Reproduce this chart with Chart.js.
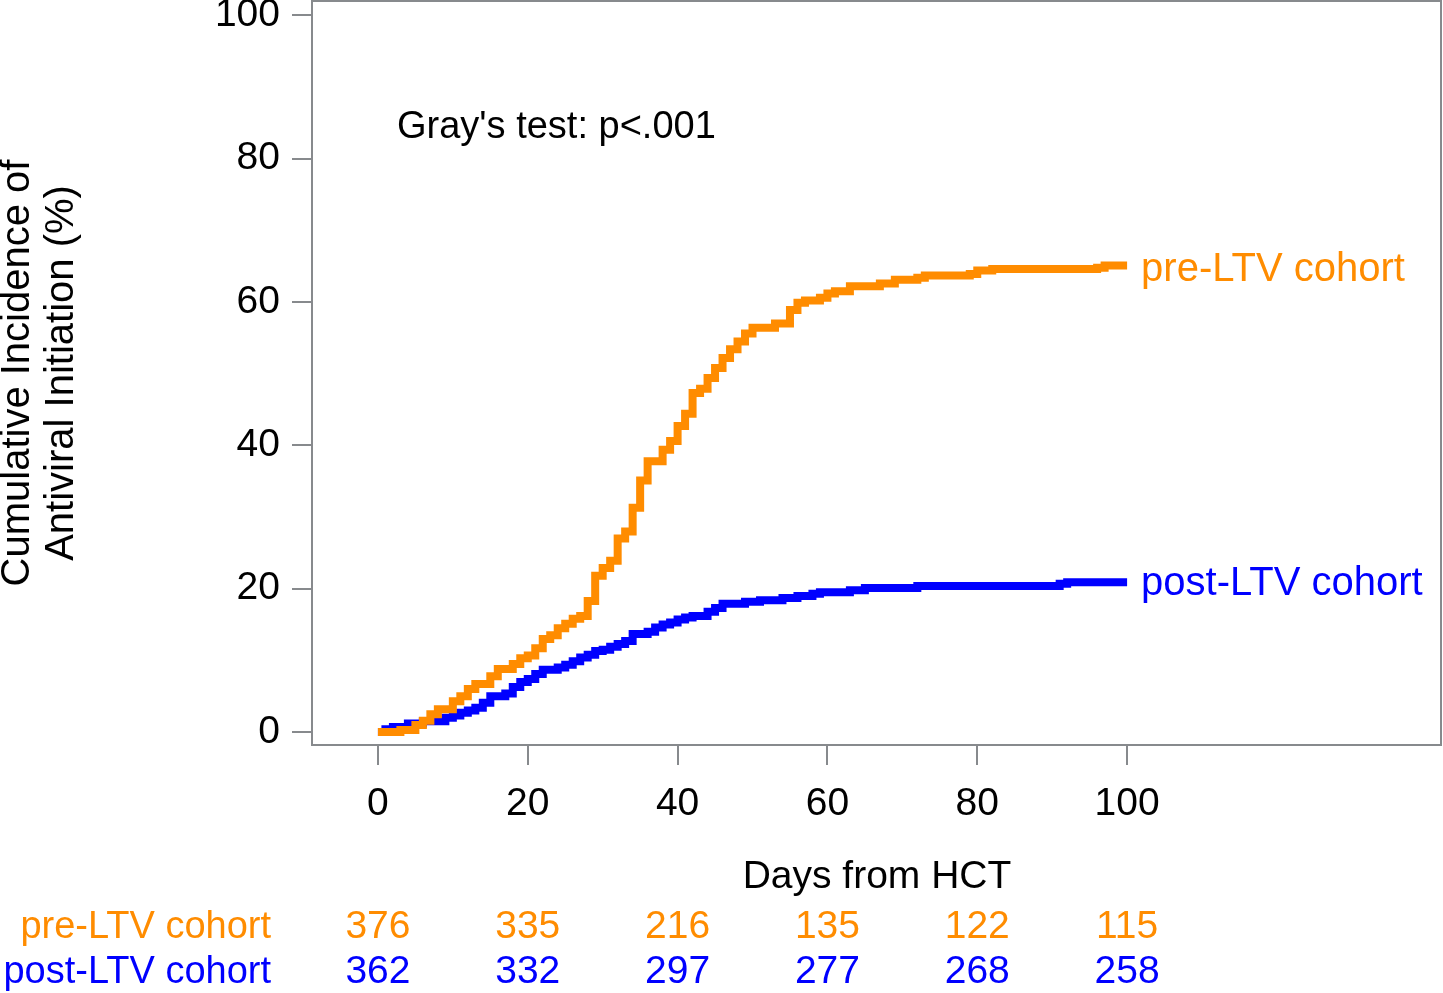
<!DOCTYPE html>
<html>
<head>
<meta charset="utf-8">
<script src="https://cdn.jsdelivr.net/npm/chart.js@4.4.1/dist/chart.umd.min.js"></script>
<style>
  html, body { margin: 0; padding: 0; background: #fff; }
  #wrap { width: 1443px; height: 993px; }
</style>
</head>
<body>
<div id="wrap"><canvas id="cif" width="1443" height="993"></canvas></div>
<script>
// step points: [day, cumulative incidence %]
const preDays = [0, 3, 5, 6, 7, 8, 10, 11, 12, 13, 15, 16, 18, 19, 20, 21, 22, 23, 24, 25, 26, 27, 28, 29, 30, 31, 32, 33, 34, 35, 36, 38, 39, 40, 41, 42, 43, 44, 45, 46, 47, 48, 49, 50, 53, 55, 56, 57, 59, 60, 61, 63, 67, 69, 72, 73, 79, 80, 82, 96, 97, 100];
const preValues = [0, 0.3, 1.0, 1.6, 2.5, 3.2, 4.3, 5.0, 6.0, 6.7, 7.8, 8.8, 9.5, 10.3, 10.7, 11.7, 13.0, 13.5, 14.5, 15.1, 15.8, 16.2, 18.3, 21.8, 22.9, 23.9, 27.0, 28.0, 31.3, 35.1, 37.8, 39.4, 40.6, 42.7, 44.4, 47.3, 47.9, 49.4, 50.8, 52.2, 53.4, 54.5, 55.6, 56.4, 57.0, 58.9, 59.9, 60.2, 60.6, 61.2, 61.5, 62.2, 62.6, 63.1, 63.4, 63.7, 63.9, 64.4, 64.6, 64.8, 65.1, 65.1];

const postDays = [0, 1, 2, 4, 6, 9, 10, 11, 12, 13, 14, 15, 17, 18, 19, 20, 21, 22, 24, 25, 26, 27, 28, 29, 30, 31, 32, 33, 34, 36, 37, 38, 39, 40, 41, 42, 44, 45, 46, 49, 51, 54, 56, 58, 59, 63, 65, 72, 91, 92, 100];
const postValues = [0, 0.4, 0.7, 1.2, 1.5, 2.0, 2.3, 2.7, 3.0, 3.4, 4.1, 5.0, 5.4, 6.3, 7.0, 7.4, 8.1, 8.7, 9.0, 9.4, 9.9, 10.4, 10.8, 11.3, 11.5, 11.9, 12.3, 12.7, 13.7, 14.0, 14.6, 15.0, 15.3, 15.7, 16.0, 16.2, 16.8, 17.3, 17.9, 18.2, 18.4, 18.7, 19.0, 19.3, 19.5, 19.8, 20.1, 20.4, 20.7, 20.9, 20.9];

const tickValues = [0, 20, 40, 60, 80, 100];
const riskDays = [0, 20, 40, 60, 80, 100];
const preAtRisk = [376, 335, 216, 135, 122, 115];
const postAtRisk = [362, 332, 297, 277, 268, 258];

const ORANGE = '#ff8c00';
const BLUE = '#0000ff';
const GREY = '#878a8d';
const FONT = "'Liberation Sans', Arial, sans-serif";

function pairs(xs, ys) {
    return xs.map((x, i) => ({ x: x, y: ys[i] }));
}

// frame + annotations + number-at-risk table
const extras = {
    id: 'extras',
    afterDraw(chart) {
        const c = chart.ctx;
        const a = chart.chartArea;
        const xs = chart.scales.x;
        c.save();
        c.strokeStyle = GREY;
        c.lineWidth = 2;
        c.beginPath();
        c.moveTo(a.left, a.top);
        c.lineTo(a.right, a.top);
        c.lineTo(a.right, a.bottom);
        c.stroke();

        c.textBaseline = 'middle';
        c.font = '38px ' + FONT;
        c.fillStyle = '#000';
        c.textAlign = 'left';
        c.fillText("Gray's test: p<.001", 397, 128);

        c.font = '40px ' + FONT;
        const endX = xs.getPixelForValue(100) + 14;
        c.fillStyle = ORANGE;
        c.fillText('pre-LTV cohort', endX, 270);
        c.fillStyle = BLUE;
        c.fillText('post-LTV cohort', endX, 584);

        c.textBaseline = 'alphabetic';
        c.font = '39px ' + FONT;
        c.fillStyle = '#000';
        c.textAlign = 'center';
        c.fillText('Days from HCT', 877, 888);

        c.font = '38px ' + FONT;
        c.textAlign = 'right';
        c.fillStyle = ORANGE;
        c.fillText('pre-LTV cohort', 271, 938);
        c.fillStyle = BLUE;
        c.fillText('post-LTV cohort', 271, 983);

        c.font = '39px ' + FONT;
        c.textAlign = 'center';
        riskDays.forEach((d, i) => {
            const px = xs.getPixelForValue(d);
            c.fillStyle = ORANGE;
            c.fillText(String(preAtRisk[i]), px, 938);
            c.fillStyle = BLUE;
            c.fillText(String(postAtRisk[i]), px, 983);
        });

        // y axis title, two lines
        c.textBaseline = 'middle';
        c.font = '40px ' + FONT;
        c.fillStyle = '#000';
        c.translate(0, 373);
        c.rotate(-Math.PI / 2);
        c.textAlign = 'center';
        c.fillText('Cumulative Incidence of', 0, 18);
        c.fillText('Antiviral Initiation (%)', 0, 62);
        c.restore();
    }
};

const config = {
    type: 'line',
    data: {
        datasets: [
            {
                label: 'pre-LTV cohort',
                data: pairs(preDays, preValues),
                borderColor: ORANGE,
                borderWidth: 8,
                stepped: true,
                pointRadius: 0,
                fill: false
            },
            {
                label: 'post-LTV cohort',
                data: pairs(postDays, postValues),
                borderColor: BLUE,
                borderWidth: 8,
                stepped: true,
                pointRadius: 0,
                fill: false
            }
        ]
    },
    options: {
        responsive: false,
        animation: false,
        layout: { padding: { top: 1, right: 2, left: 0, bottom: 0 } },
        plugins: {
            legend: { display: false },
            tooltip: { enabled: false }
        },
        scales: {
            x: {
                type: 'linear',
                min: -8.8,
                max: 141.9,
                afterBuildTicks: (axis) => { axis.ticks = tickValues.map(v => ({ value: v })); },
                afterFit: (scale) => { scale.height = 248; scale.paddingLeft = 0; scale.paddingRight = 0; },
                grid: { drawOnChartArea: false, color: GREY, lineWidth: 2, tickLength: 20 },
                border: { color: GREY, width: 2 },
                ticks: { color: '#000', font: { size: 39, family: FONT }, padding: 16, maxRotation: 0 }
            },
            y: {
                type: 'linear',
                min: -1.8,
                max: 102,
                afterBuildTicks: (axis) => { axis.ticks = tickValues.map(v => ({ value: v })); },
                afterFit: (scale) => { scale.width = 312; scale.paddingTop = 0; scale.paddingBottom = 0; },
                grid: { drawOnChartArea: false, color: GREY, lineWidth: 2, tickLength: 20 },
                border: { color: GREY, width: 2 },
                ticks: { color: '#000', font: { size: 39, family: FONT }, padding: 12 }
            }
        }
    },
    plugins: [extras]
};

new Chart(document.getElementById('cif').getContext('2d'), config);
</script>
</body>
</html>
